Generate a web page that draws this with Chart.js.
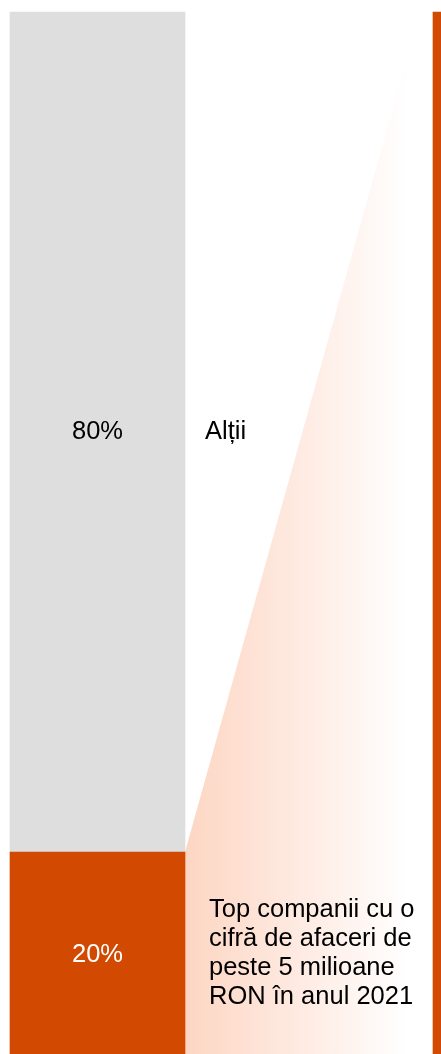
<!DOCTYPE html>
<html>
<head>
<meta charset="utf-8">
<script src="https://cdn.jsdelivr.net/npm/chart.js@4"></script>
<style>
  html, body { margin: 0; padding: 0; overflow: hidden; background: #fff; }
  #wrap { position: absolute; left: 0; top: 0; width: 441px; height: 1062px; }
</style>
</head>
<body>
<div id="wrap"><canvas id="chart"></canvas></div>
<script>
const categories = ['Total', 'Detaliu'];
const topValues = [20, null];
const otherValues = [80, null];
const detailValues = [null, 100];
const topLabel = ['Top companii cu o', 'cifră de afaceri de', 'peste 5 milioane', 'RON în anul 2021'];
const otherLabel = 'Alții';

const orange = '#D24A02';
const gray = '#DEDEDE';
const font = '25.5px "Liberation Sans", Arial, sans-serif';

// connector area between the stacked bar and the detail bar
const connector = {
    id: 'connector',
    beforeDatasetsDraw(chart) {
        const ctx = chart.ctx;
        const left = chart.getDatasetMeta(0).data[0];
        const right = chart.getDatasetMeta(2).data[1];
        const x0 = left.x + left.width / 2;
        const x1 = right.x - right.width / 2;
        const yTop = chart.scales.y.getPixelForValue(104.5);
        const bottom = chart.height;

        const grad = ctx.createLinearGradient(x0, 0, x1, 0);
        grad.addColorStop(0, '#FDD6C3');
        grad.addColorStop(0.45, '#FEEAE1');
        grad.addColorStop(0.9, '#FFFFFF');

        ctx.save();
        ctx.beginPath();
        ctx.moveTo(x0, left.y);
        ctx.lineTo(x1, yTop);
        ctx.lineTo(x1, bottom);
        ctx.lineTo(x0, bottom);
        ctx.closePath();
        ctx.fillStyle = grad;
        ctx.fill();
        ctx.restore();
    },
    afterDatasetsDraw(chart) {
        const ctx = chart.ctx;
        const topBar = chart.getDatasetMeta(0).data[0];
        const otherBar = chart.getDatasetMeta(1).data[0];
        const barRight = topBar.x + topBar.width / 2;

        ctx.save();
        ctx.font = font;
        ctx.textBaseline = 'middle';

        ctx.textAlign = 'center';
        ctx.fillStyle = '#000';
        ctx.fillText(otherValues[0] + '%', otherBar.x, (otherBar.y + otherBar.base) / 2);
        ctx.fillStyle = '#fff';
        ctx.fillText(topValues[0] + '%', topBar.x, (topBar.y + topBar.base) / 2 - 2);

        ctx.textAlign = 'left';
        ctx.fillStyle = '#000';
        ctx.fillText(otherLabel, barRight + 20, (otherBar.y + otherBar.base) / 2);

        const lh = 29;
        const mid = (topBar.y + topBar.base) / 2 - 4;
        const start = mid - lh * (topLabel.length - 1) / 2;
        for (let i = 0; i < topLabel.length; i++) {
            ctx.fillText(topLabel[i], barRight + 24, start + i * lh);
        }
        ctx.restore();
    }
};

new Chart(document.getElementById('chart'), {
    type: 'bar',
    data: {
        labels: categories,
        datasets: [
            { label: topLabel.join(' '), data: topValues, backgroundColor: orange, barThickness: 175, clip: false },
            { label: otherLabel, data: otherValues, backgroundColor: gray, barThickness: 175, clip: false },
            { label: 'Detaliu', data: detailValues, backgroundColor: orange, barThickness: 16, clip: false }
        ]
    },
    options: {
        responsive: true,
        maintainAspectRatio: false,
        devicePixelRatio: 1,
        animation: false,
        layout: { padding: { left: 97.5, right: 0, top: 12, bottom: 0 } },
        plugins: { legend: { display: false }, tooltip: { enabled: false } },
        scales: {
            x: { stacked: true, offset: false, display: false },
            y: { stacked: true, min: 0, max: 100, display: false }
        }
    },
    plugins: [connector]
});
</script>
</body>
</html>
